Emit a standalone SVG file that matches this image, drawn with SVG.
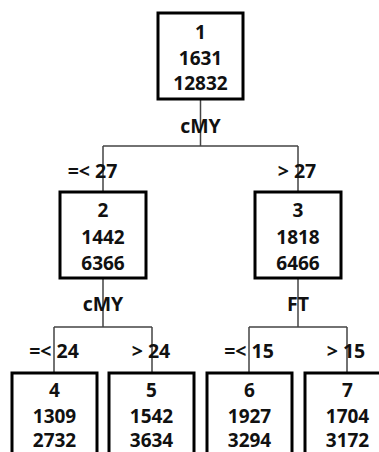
<svg xmlns="http://www.w3.org/2000/svg" width="379" height="452" viewBox="0 0 379 452">
<style>
.box{fill:#fff;stroke:#000;stroke-width:3}
.ln{fill:none;stroke:#444;stroke-width:1.5}
text{font-family:"Open Sans","Noto Sans","DejaVu Sans",sans-serif;font-weight:bold;font-size:19px;fill:#111;text-anchor:middle;dominant-baseline:central}
.lbl{font-size:19.5px}
</style>
<rect width="379" height="452" fill="#fff"/>
<g id="connectors">
<path class="ln" d="M200.5 99V146M103 146H298M103 146V192M298 146V192"/>
<path class="ln" d="M103 278V327M54 327H152M54 327V373M152 327V373"/>
<path class="ln" d="M298 278V327M249 327H347M249 327V373M347 327V373"/>
<text class="lbl" x="200.5" y="125">cMY</text>
<text class="lbl" x="92.5" y="170">=&lt; 27</text>
<text class="lbl" x="297" y="170">&gt; 27</text>
<text class="lbl" x="103" y="303">cMY</text>
<text class="lbl" x="54" y="350">=&lt; 24</text>
<text class="lbl" x="151" y="350">&gt; 24</text>
<text class="lbl" x="298" y="303">FT</text>
<text class="lbl" x="249" y="350">=&lt; 15</text>
<text class="lbl" x="346" y="350">&gt; 15</text>
</g>
<g id="node1"><rect class="box" x="158" y="13" width="85" height="86"/><text x="200.5" y="32">1</text><text x="200.5" y="58">1631</text><text x="200.5" y="83">12832</text></g>
<g id="node2"><rect class="box" x="60" y="192" width="86" height="86"/><text x="103" y="210">2</text><text x="103" y="237">1442</text><text x="103" y="263">6366</text></g>
<g id="node3"><rect class="box" x="255" y="192" width="86" height="86"/><text x="298" y="210">3</text><text x="298" y="237">1818</text><text x="298" y="263">6466</text></g>
<g id="node4"><rect class="box" x="12" y="373" width="85" height="90"/><text x="54.5" y="390">4</text><text x="54.5" y="415.5">1309</text><text x="54.5" y="440">2732</text></g>
<g id="node5"><rect class="box" x="109" y="373" width="85" height="90"/><text x="151.5" y="390">5</text><text x="151.5" y="415.5">1542</text><text x="151.5" y="440">3634</text></g>
<g id="node6"><rect class="box" x="207" y="373" width="85" height="90"/><text x="249.5" y="390">6</text><text x="249.5" y="415.5">1927</text><text x="249.5" y="440">3294</text></g>
<g id="node7"><rect class="box" x="305" y="373" width="85" height="90"/><text x="347.5" y="390">7</text><text x="347.5" y="415.5">1704</text><text x="347.5" y="440">3172</text></g>
</svg>
